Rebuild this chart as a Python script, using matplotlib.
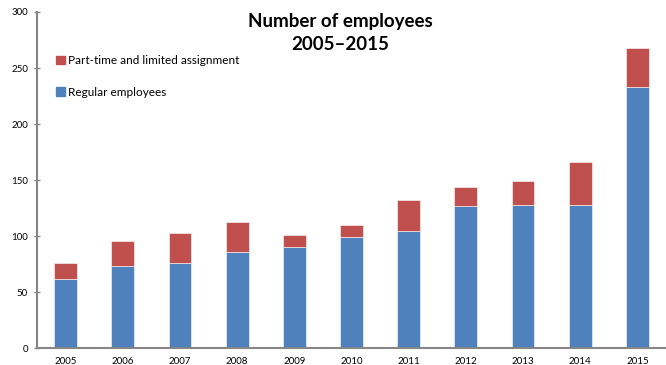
import matplotlib
matplotlib.use("Agg")
import matplotlib.pyplot as plt
from matplotlib.patches import Patch

years = ["2005", "2006", "2007", "2008", "2009", "2010", "2011", "2012", "2013", "2014", "2015"]
regular = [62, 73, 76, 86, 90, 99, 105, 127, 128, 128, 233]
total = [76, 96, 103, 113, 101, 110, 132, 144, 149, 166, 268]
parttime = [t - r for t, r in zip(total, regular)]

plt.rcParams['font.family'] = ['Lato', 'DejaVu Sans']

fig = plt.figure(figsize=(6.66, 3.65), dpi=100)
ax = fig.add_axes([37/666, 16.7/365, 1 - 37/666, (348.3 - 12)/365])

x = list(range(len(years)))
blue = "#4F81BD"
red = "#C0504D"
ax.bar(x, regular, width=0.4, color=blue, edgecolor="white", linewidth=0.4)
ax.bar(x, parttime, bottom=regular, width=0.4, color=red, edgecolor="white", linewidth=0.4)

ax.set_xlim(-0.5, len(years) - 0.5)
ax.set_ylim(0, 300)
ax.set_yticks([0, 50, 100, 150, 200, 250, 300])
ax.set_xticks(x)
ax.set_xticklabels(years)
ax.tick_params(axis='y', direction='inout', length=5, width=1, colors='#868686', labelcolor='black', labelsize=7, pad=4)
ax.tick_params(axis='x', length=0, labelsize=7, pad=6)
for s in ['top', 'right']:
    ax.spines[s].set_visible(False)
for s in ['left', 'bottom']:
    ax.spines[s].set_color('#868686')
    ax.spines[s].set_linewidth(1.5)

fig.text(340/666, 1 - 21/365, "Number of employees", ha='center', va='center', fontsize=13.5, fontweight='bold')
fig.text(340/666, 1 - 45/365, "2005\u20132015", ha='center', va='center', fontsize=13.5, fontweight='bold')

handles = [Patch(color=red, label="Part-time and limited assignment"),
           Patch(color=blue, label="Regular employees")]
fig.legend(handles=handles, loc='upper left', bbox_to_anchor=(56/666, 1 - 55/365), frameon=False,
           fontsize=8.5, handlelength=0.75, handleheight=0.75, handletextpad=0.3, labelspacing=1.75,
           borderpad=0, borderaxespad=0)

fig.savefig("out.png", dpi=100)
